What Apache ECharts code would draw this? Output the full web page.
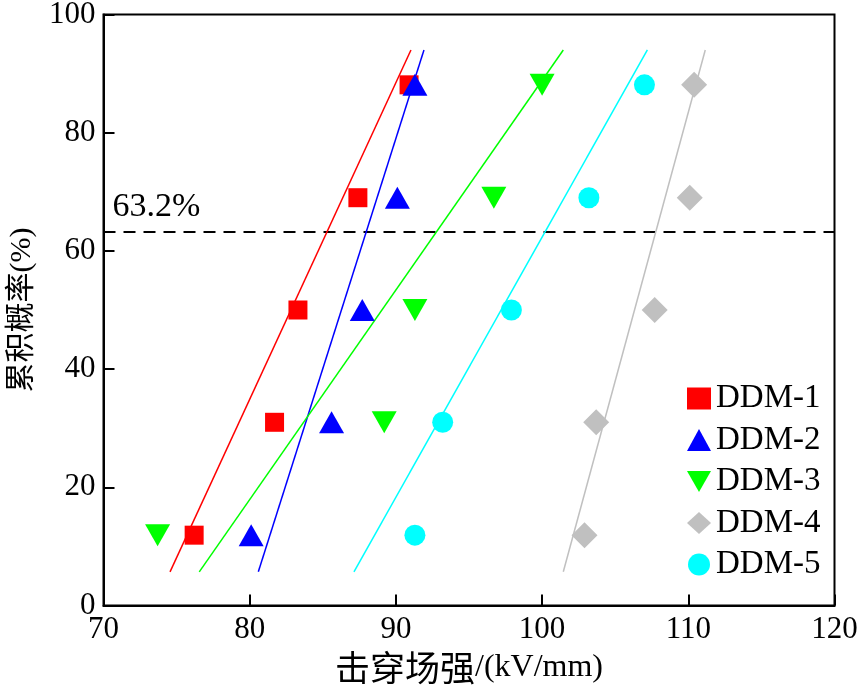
<!DOCTYPE html>
<html>
<head>
<meta charset="utf-8">
<script src="https://cdn.jsdelivr.net/npm/echarts@6/dist/echarts.min.js"></script>
<style>html,body{margin:0;padding:0;background:#fff;}#c{width:861px;height:687px;}</style>
</head>
<body>
<div id="c"></div>
<script>
// Cumulative probability levels (%)
var probLevels = [11.9, 31.0, 50.0, 69.0, 88.1];
// Breakdown field strength (kV/mm) per sample
var ddm1 = [76.2, 81.7, 83.3, 87.4, 90.9];
var ddm2 = [80.1, 85.6, 87.7, 90.1, 91.3];
var ddm3 = [73.7, 89.2, 91.3, 96.7, 100.0];
var ddm4 = [102.9, 103.7, 107.7, 110.1, 110.4];
var ddm5 = [91.3, 93.2, 97.9, 103.2, 107.0];
// Fitted lines: [x at bottom, x at top], y range
var fitY = [5.7, 94.0];
var fit1 = [74.55, 91.03];
var fit2 = [80.59, 91.92];
var fit3 = [76.55, 101.45];
var fit4 = [101.45, 111.16];
var fit5 = [87.13, 107.2];
var refLevel = 63.2;
var refLabel = '63.2%';
var names = ['DDM-1', 'DDM-2', 'DDM-3', 'DDM-4', 'DDM-5'];
var colors = ['#ff0000', '#0000ff', '#00ff00', '#c0c0c0', '#00ffff'];

var FONT = '"Liberation Serif", "Times New Roman", "Noto Sans CJK SC", serif';
var CJK = '"Noto Sans CJK SC", sans-serif';

function pts(xs) { return xs.map(function (x, i) { return [x, probLevels[i]]; }); }
function fitPts(f) { return [[f[0], fitY[0]], [f[1], fitY[1]]]; }

var scatterDefs = [
  { data: ddm1, symbol: 'rect', size: 19, rot: 0 },
  { data: ddm2, symbol: 'triangle', size: [25, 22], rot: 0 },
  { data: ddm3, symbol: 'triangle', size: [25, 22], rot: 180 },
  { data: ddm4, symbol: 'diamond', size: 26, rot: 0 },
  { data: ddm5, symbol: 'circle', size: 21, rot: 0 }
];
var legendIcons = ['rect', 'triangle', 'path://M0,0L2,0L1,1.76Z', 'diamond', 'circle'];
var fits = [fit1, fit2, fit3, fit4, fit5];

var series = [];
fits.forEach(function (f, i) {
  series.push({
    name: 'fit' + (i + 1), type: 'line', data: fitPts(f), symbol: 'none',
    lineStyle: { color: colors[i], width: 1.5 }, silent: true, z: 2
  });
});
series.push({
  name: 'ref', type: 'line', data: [[70, refLevel], [120, refLevel]], symbol: 'none',
  lineStyle: { color: '#000', width: 2, type: [12, 8] }, silent: true, z: 1
});
scatterDefs.forEach(function (d, i) {
  series.push({
    name: names[i], type: 'scatter', data: pts(d.data), symbol: d.symbol,
    symbolSize: d.size, symbolRotate: d.rot,
    itemStyle: { color: colors[i], opacity: 1 }, z: 5
  });
});

var chart = echarts.init(document.getElementById('c'));
chart.setOption({
  animation: false,
  backgroundColor: '#fff',
  textStyle: { fontFamily: FONT },
  grid: {
    left: 103.5, right: 26.5, top: 14.5, bottom: 81.5, outerBoundsMode: 'none', containLabel: false,
    show: true, borderColor: '#000', borderWidth: 2, backgroundColor: 'transparent'
  },
  xAxis: {
    type: 'value', min: 70, max: 120, interval: 10,
    name: '{cn|击穿场强}{en|/(kV/mm)}', nameLocation: 'middle', nameGap: 37,
    nameTextStyle: {
      color: '#000',
      rich: {
        cn: { fontFamily: CJK, fontSize: 35, color: '#000' },
        en: { fontFamily: FONT, fontSize: 32, color: '#000' }
      }
    },
    axisLine: { lineStyle: { color: '#000', width: 2 } },
    axisTick: { inside: true, length: 11, lineStyle: { color: '#000', width: 2 } },
    axisLabel: { fontFamily: FONT, fontSize: 31, color: '#000', margin: 9 },
    splitLine: { show: false }
  },
  yAxis: {
    type: 'value', min: 0, max: 100, interval: 20,
    name: '累积概率(%)', nameLocation: 'middle', nameGap: 66,
    nameTextStyle: { fontFamily: FONT, fontSize: 30, color: '#000' },
    axisLine: { lineStyle: { color: '#000', width: 2 } },
    axisTick: { inside: true, length: 11, lineStyle: { color: '#000', width: 2 } },
    axisLabel: { fontFamily: FONT, fontSize: 31, color: '#000', margin: 8 },
    splitLine: { show: false }
  },
  legend: {
    data: names.map(function (n, i) { return { name: n, icon: legendIcons[i] }; }),
    orient: 'vertical', left: 682, top: 377,
    itemWidth: 24, itemHeight: 22, itemGap: 8.5, symbolRotate: 0,
    textStyle: { fontFamily: FONT, fontSize: 33, color: '#000' }
  },
  series: series
});

var p = chart.convertToPixel({ gridIndex: 0 }, [70, refLevel]);
chart.setOption({
  graphic: [{
    type: 'text', left: p[0] + 9, top: p[1] - 42,
    style: { text: refLabel, font: '34px ' + FONT, fill: '#000' }
  }]
});
</script>
</body>
</html>
